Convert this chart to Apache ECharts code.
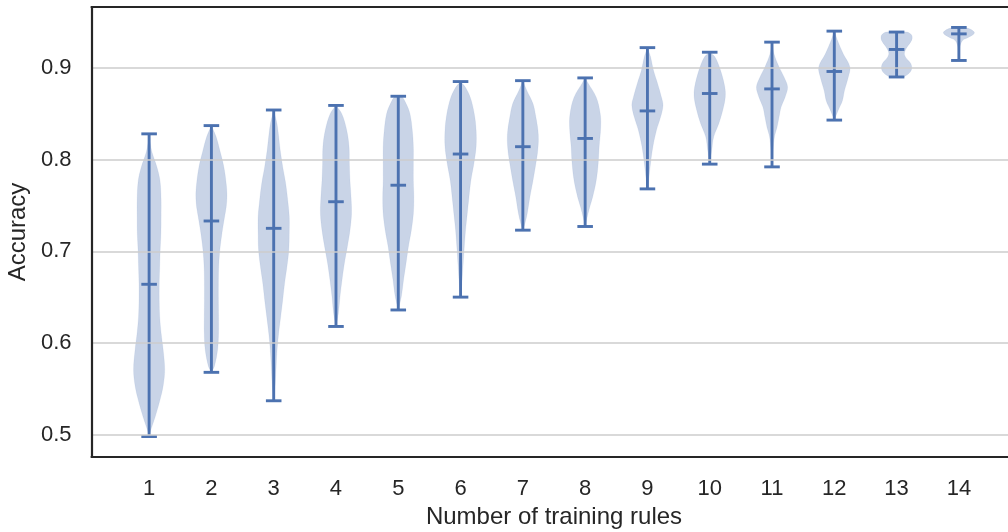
<!DOCTYPE html>
<html>
<head>
<meta charset="utf-8">
<script src="https://cdn.jsdelivr.net/npm/echarts@6/dist/echarts.min.js"></script>
<style>html,body{margin:0;padding:0;background:#fff;}#c{width:1008px;height:532px;}</style>
</head>
<body>
<div id="c"></div>
<script>
// ---- data ----
const categories = [1, 2, 3, 4, 5, 6, 7, 8, 9, 10, 11, 12, 13, 14];
const xTickLabels = ['1','2','3','4','5','6','7','8','9','10','11','12','13','14'];
const yTickLabels = ['0.5','0.6','0.7','0.8','0.9'];
const minValues  = [0.498,0.568,0.537,0.618,0.636,0.650,0.723,0.727,0.768,0.795,0.792,0.843,0.890,0.908];
const maxValues  = [0.828,0.837,0.854,0.859,0.869,0.885,0.886,0.889,0.922,0.917,0.928,0.940,0.939,0.944];
const meanValues = [0.664,0.733,0.725,0.754,0.772,0.806,0.814,0.823,0.853,0.872,0.877,0.896,0.920,0.937];

// density profiles: [accuracy, relative density (max = 1)], top to bottom
const profile1  = [[0.828,0],[0.820,0.05],[0.807,0.2],[0.792,0.5],[0.777,0.7],[0.756,0.77],[0.738,0.77],[0.720,0.76],[0.701,0.71],[0.683,0.68],[0.665,0.65],[0.647,0.65],[0.629,0.68],[0.611,0.77],[0.593,0.9],[0.571,1.0],[0.553,0.9],[0.538,0.7],[0.520,0.4],[0.502,0.05],[0.498,0]];
const profile2  = [[0.837,0],[0.825,0.3],[0.810,0.54],[0.792,0.8],[0.774,0.95],[0.761,1.0],[0.748,0.95],[0.738,0.85],[0.720,0.68],[0.701,0.54],[0.683,0.47],[0.665,0.45],[0.647,0.45],[0.629,0.46],[0.611,0.46],[0.593,0.4],[0.575,0.2],[0.568,0]];
const profile3  = [[0.854,0],[0.840,0.2],[0.828,0.3],[0.810,0.42],[0.792,0.58],[0.774,0.77],[0.756,0.9],[0.738,1.0],[0.720,1.0],[0.701,0.97],[0.683,0.85],[0.665,0.7],[0.647,0.58],[0.629,0.45],[0.611,0.32],[0.593,0.22],[0.575,0.16],[0.556,0.1],[0.537,0]];
const profile4  = [[0.859,0],[0.850,0.37],[0.832,0.69],[0.814,0.84],[0.796,0.86],[0.777,0.9],[0.759,0.97],[0.741,1.0],[0.723,0.9],[0.705,0.73],[0.687,0.54],[0.669,0.39],[0.651,0.26],[0.632,0.15],[0.618,0]];
const profile5  = [[0.869,0.2],[0.861,0.5],[0.850,0.75],[0.832,0.9],[0.814,0.97],[0.796,0.97],[0.777,0.97],[0.759,1.0],[0.741,0.97],[0.723,0.84],[0.705,0.65],[0.687,0.5],[0.669,0.34],[0.651,0.2],[0.636,0]];
const profile6  = [[0.885,0],[0.879,0.3],[0.868,0.62],[0.850,0.88],[0.832,1.0],[0.814,1.0],[0.796,0.86],[0.777,0.66],[0.759,0.54],[0.741,0.43],[0.723,0.32],[0.705,0.24],[0.687,0.17],[0.669,0.1],[0.650,0]];
const profile7  = [[0.886,0],[0.875,0.26],[0.861,0.65],[0.846,0.84],[0.832,0.97],[0.821,1.0],[0.807,0.94],[0.796,0.84],[0.777,0.65],[0.759,0.45],[0.741,0.28],[0.730,0.13],[0.723,0]];
const profile8  = [[0.889,0],[0.883,0.2],[0.868,0.71],[0.850,0.97],[0.835,1.0],[0.814,0.9],[0.796,0.84],[0.777,0.71],[0.759,0.48],[0.748,0.29],[0.737,0.13],[0.727,0]];
const profile9  = [[0.922,0],[0.912,0.2],[0.897,0.39],[0.883,0.65],[0.868,0.9],[0.859,1.0],[0.846,0.84],[0.832,0.58],[0.814,0.35],[0.796,0.2],[0.781,0.1],[0.768,0]];
const profile10 = [[0.917,0],[0.912,0.33],[0.897,0.7],[0.879,0.97],[0.868,1.0],[0.854,0.84],[0.839,0.58],[0.825,0.26],[0.810,0.13],[0.795,0]];
const profile11 = [[0.928,0],[0.915,0.13],[0.901,0.45],[0.890,0.77],[0.879,1.0],[0.868,0.84],[0.857,0.58],[0.846,0.45],[0.835,0.32],[0.825,0.16],[0.810,0.06],[0.792,0]];
const profile12 = [[0.940,0],[0.930,0.2],[0.915,0.58],[0.901,1.0],[0.890,0.9],[0.875,0.65],[0.864,0.52],[0.854,0.26],[0.843,0]];
const profile13 = [[0.939,0.65],[0.936,0.95],[0.932,1.0],[0.928,0.9],[0.922,0.65],[0.916,0.5],[0.911,0.6],[0.905,0.9],[0.899,0.97],[0.894,0.8],[0.890,0.4]];
const profile14 = [[0.944,0.3],[0.942,0.75],[0.938,1.0],[0.933,0.6],[0.930,0.25],[0.924,0.08],[0.919,0.02],[0.908,0]];

const profiles = [profile1, profile2, profile3, profile4, profile5, profile6, profile7,
                  profile8, profile9, profile10, profile11, profile12, profile13, profile14];

// ---- chart ----
const BLUE = '#4C72B0';
const INK = '#262626';
const FONT = "'Liberation Sans', Arial, sans-serif";
const HALF_W = 0.25;   // max half width of a violin (axis units)
const CAP_HALF = 0.125;
const X_MIN = 0.075, X_MAX = 14.925, Y_MIN = 0.4757, Y_MAX = 0.9663;

const seriesData = categories.map((c, i) => [c, minValues[i], maxValues[i], meanValues[i], i]);

const chart = echarts.init(document.getElementById('c'), null, {renderer: 'canvas'});

function findLabel(list, v) {
  for (const l of list) { if (Math.abs(parseFloat(l) - v) < 1e-6) return l; }
  return '';
}

const frameLine = {show: true, onZero: false, lineStyle: {color: INK, width: 2.2}};

chart.setOption({
  backgroundColor: '#ffffff',
  animation: false,
  grid: {
    left: 91.5, right: -8.5, top: 7, bottom: 75,
    show: false, outerBoundsMode: 'none', containLabel: false
  },
  xAxis: [{
    type: 'value',
    min: X_MIN, max: X_MAX,
    minInterval: 1, maxInterval: 1,
    name: 'Number of training rules',
    nameLocation: 'middle', nameGap: 45,
    nameTextStyle: {fontSize: 24, color: INK, fontFamily: FONT},
    axisLine: frameLine,
    axisTick: {show: false},
    splitLine: {show: false},
    axisLabel: {
      margin: 21, fontSize: 22, color: INK, fontFamily: FONT,
      showMinLabel: false, showMaxLabel: false,
      formatter: v => findLabel(xTickLabels, v)
    },
    z: 10
  }, {
    type: 'value', position: 'top',
    min: X_MIN, max: X_MAX,
    axisLine: frameLine,
    axisTick: {show: false}, axisLabel: {show: false}, splitLine: {show: false},
    z: 10
  }],
  yAxis: {
    type: 'value',
    min: Y_MIN, max: Y_MAX,
    minInterval: 0.1, maxInterval: 0.1,
    name: 'Accuracy',
    nameLocation: 'middle', nameGap: 55,
    nameTextStyle: {fontSize: 24, color: INK, fontFamily: FONT},
    axisLine: frameLine,
    axisTick: {show: false},
    splitLine: {show: true, lineStyle: {color: '#cccccc', width: 1.6}},
    axisLabel: {
      margin: 20, fontSize: 22, color: INK, fontFamily: FONT,
      showMinLabel: false, showMaxLabel: false,
      formatter: v => findLabel(yTickLabels, v)
    },
    z: 10
  },
  series: [
    {
      type: 'custom',
      name: 'violins',
      data: seriesData,
      encode: {x: 0, y: [1, 2]},
      clip: true,
      z: 2,
      renderItem: function (params, api) {
        const pos = api.value(0);
        const prof = profiles[api.value(4)];
        const right = prof.map(p => api.coord([pos + p[1] * HALF_W, p[0]]));
        const left = prof.slice().reverse().map(p => api.coord([pos - p[1] * HALF_W, p[0]]));
        return {
          type: 'polygon',
          shape: {points: right.concat(left), smooth: 0.35},
          style: {fill: 'rgba(76,114,176,0.3)', stroke: 'rgba(76,114,176,0.08)', lineWidth: 1}
        };
      }
    },
    {
      type: 'custom',
      name: 'bars',
      data: seriesData,
      encode: {x: 0, y: [1, 2]},
      z: 3,
      renderItem: function (params, api) {
        const pos = api.value(0);
        const lo = api.value(1), hi = api.value(2), mean = api.value(3);
        const st = {stroke: BLUE, lineWidth: 2.9};
        const seg = (a, b) => ({type: 'line', shape: {x1: a[0], y1: a[1], x2: b[0], y2: b[1]}, style: st});
        return {
          type: 'group',
          children: [
            seg(api.coord([pos, lo]), api.coord([pos, hi])),
            seg(api.coord([pos - CAP_HALF, lo]), api.coord([pos + CAP_HALF, lo])),
            seg(api.coord([pos - CAP_HALF, hi]), api.coord([pos + CAP_HALF, hi])),
            seg(api.coord([pos - CAP_HALF, mean]), api.coord([pos + CAP_HALF, mean]))
          ]
        };
      }
    }
  ]
});
</script>
</body>
</html>
